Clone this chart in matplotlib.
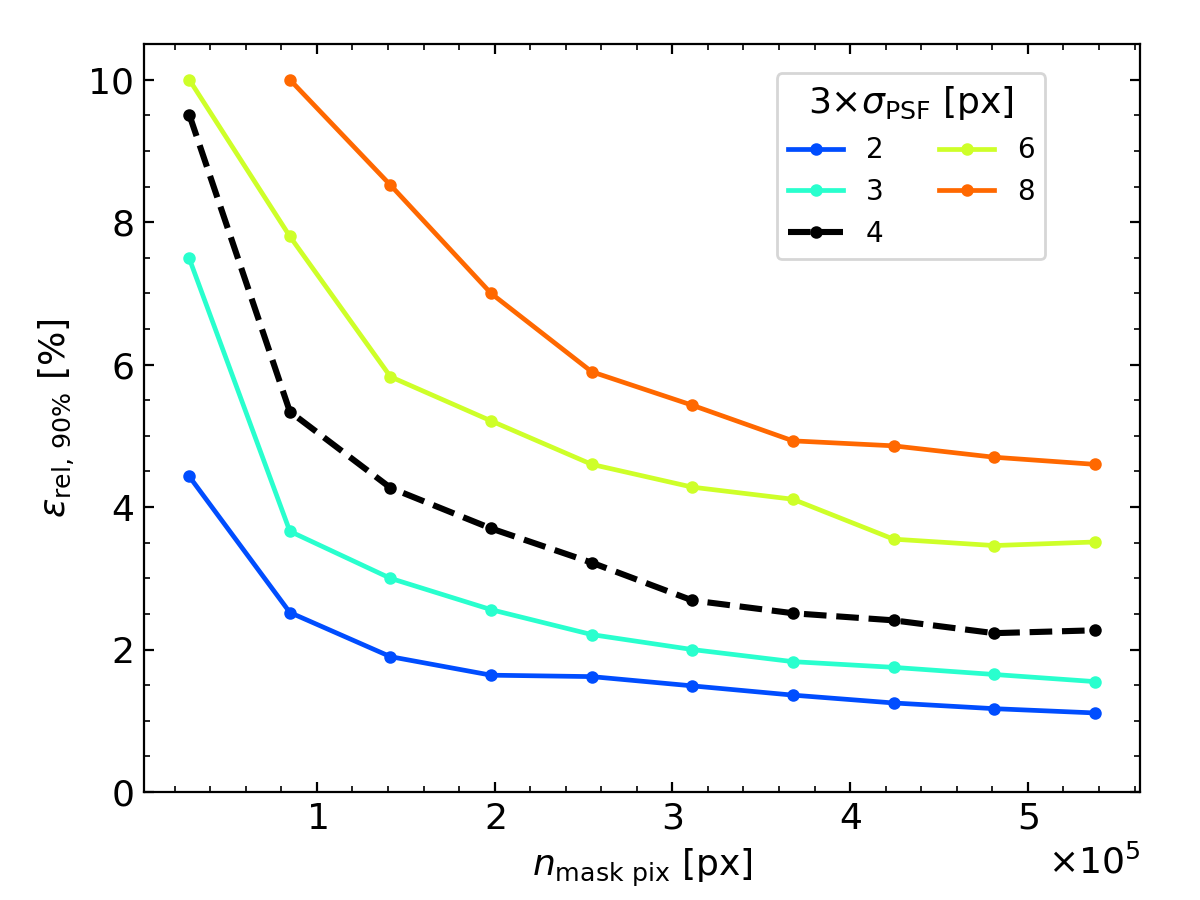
import numpy as np
import matplotlib
matplotlib.use('Agg')
import matplotlib.pyplot as plt
from matplotlib.ticker import MultipleLocator, ScalarFormatter

# mask pixel counts (x 1e5)
npix = [0.282, 0.848, 1.414, 1.980, 2.546, 3.112, 3.678, 4.244, 4.810, 5.376]

psf = ['2', '3', '4', '6', '8']
err2 = [4.43, 2.52, 1.90, 1.64, 1.62, 1.49, 1.36, 1.25, 1.17, 1.11]
err3 = [7.49, 3.66, 3.00, 2.56, 2.21, 2.00, 1.83, 1.75, 1.65, 1.55]
err4 = [9.51, 5.34, 4.27, 3.70, 3.22, 2.69, 2.51, 2.41, 2.23, 2.27]
err6 = [10.0, 7.80, 5.83, 5.21, 4.60, 4.28, 4.11, 3.55, 3.46, 3.51]
err8 = [np.nan, 10.0, 8.52, 7.00, 5.90, 5.43, 4.93, 4.86, 4.70, 4.60]

cmap = plt.get_cmap('jet')
colors = [cmap(0.2), cmap(0.4), 'k', cmap(0.6), cmap(0.8)]
styles = ['-', '-', '--', '-', '-']

plt.rcParams['font.size'] = 11
plt.rcParams['mathtext.fontset'] = 'dejavusans'

fig = plt.figure(figsize=(6, 4.5), dpi=200)
ax = fig.add_axes([0.12, 0.12, 0.83, 0.831])

x = np.array(npix) * 1e5
for lab, y, c, ls in zip(psf, [err2, err3, err4, err6, err8], colors, styles):
    lw = 2.2 if ls == '--' else 1.7
    ax.plot(x, y, ls, color=c, lw=lw, marker='o', ms=3.5, label=lab)

ax.set_ylim(0, 10.5)
ax.set_xlabel(r'$n_{\rm mask\ pix}$ [px]', fontsize=13)
ax.set_ylabel(r'$\varepsilon_{\rm rel,\,90\%}$ [%]', fontsize=13)

fmt = ScalarFormatter(useMathText=True)
fmt.set_powerlimits((0, 0))
ax.xaxis.set_major_formatter(fmt)
ax.xaxis.set_major_locator(MultipleLocator(1e5))
ax.xaxis.set_minor_locator(MultipleLocator(0.2e5))
ax.yaxis.set_major_locator(MultipleLocator(2))
ax.yaxis.set_minor_locator(MultipleLocator(0.5))
ax.tick_params(which='both', direction='in', top=True, right=True, labelsize=13)
ax.xaxis.get_offset_text().set_fontsize(13)

leg = ax.legend(ncol=2, title=r'$3{\times}\sigma_{\rm PSF}$ [px]', title_fontsize=13,
                fontsize=10, loc='upper right', bbox_to_anchor=(0.905, 0.961),
                borderaxespad=0)

fig.savefig('out.png', dpi=200)
